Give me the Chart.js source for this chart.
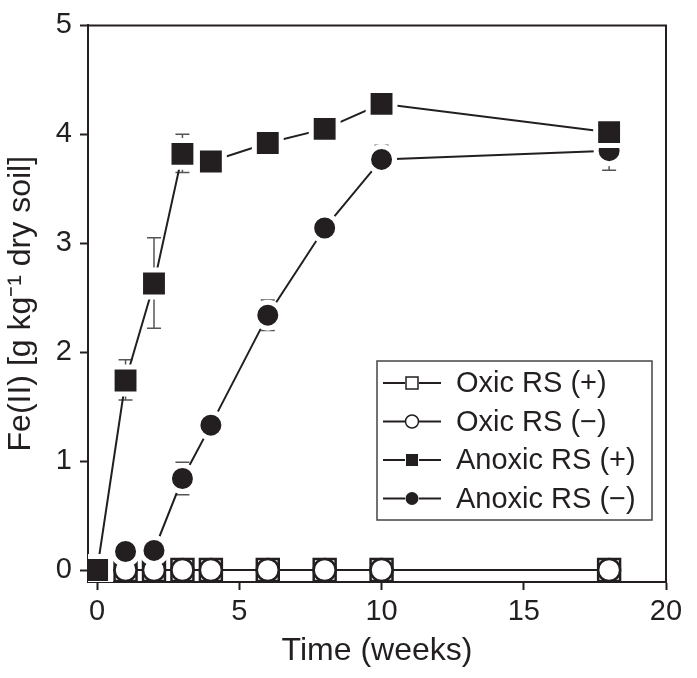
<!DOCTYPE html>
<html lang="en">
<head>
  <meta charset="UTF-8" />
  <title>Fe(II) over time</title>
  <script src="https://cdn.jsdelivr.net/npm/chart.js"></script>
  <style>
    html, body { margin: 0; padding: 0; background: #fff; }
    #wrap { width: 697px; height: 678px; }
  </style>
</head>
<body>
  <div id="wrap"><canvas id="feChart" width="697" height="678"></canvas></div>

  <script>
    // weeks
    const weeks = [0, 1, 2, 3, 4, 6, 8, 10, 18];

    const oxicPlus = [0, 0, 0, 0, 0, 0, 0, 0, 0];
    const oxicMinus = [0, 0, 0, 0, 0, 0, 0, 0, 0];
    const anoxicPlus = [0, 1.74, 2.63, 3.82, 3.75, 3.92, 4.05, 4.28, 4.02];
    const anoxicMinus = [0, 0.17, 0.18, 0.84, 1.33, 2.34, 3.14, 3.77, 3.85];

    // error bar ends (null = no bar)
    const anoxicPlusHi = [null, 1.93, 3.05, 4.0, null, 4.03, null, 4.40, null];
    const anoxicPlusLo = [null, 1.56, 2.22, 3.65, null, 3.80, null, 4.15, null];
    const anoxicMinusHi = [null, null, null, 0.99, null, 2.48, 3.23, 3.90, 3.85];
    const anoxicMinusLo = [null, null, null, 0.69, null, 2.20, 3.05, 3.66, 3.67];

    const xTicks = [0, 5, 10, 15, 20];
    const yTicks = [0, 1, 2, 3, 4, 5];

    const ink = "#231f20";
    const fontFam = "'Liberation Sans', Arial, sans-serif";

    function pts(ys) {
      return weeks.map((w, i) => ({ x: w, y: ys[i] }));
    }

    const errorBars = {
      id: "errorBars",
      beforeDatasetsDraw(chart) {
        const ctx = chart.ctx;
        const xs = chart.scales.x, ys = chart.scales.y;
        ctx.save();
        ctx.strokeStyle = "#555";
        ctx.lineWidth = 1.5;
        chart.data.datasets.forEach(ds => {
          if (!ds.errHi) return;
          weeks.forEach((w, i) => {
            if (ds.errHi[i] == null) return;
            const px = xs.getPixelForValue(w);
            const top = ys.getPixelForValue(ds.errHi[i]);
            const bot = ys.getPixelForValue(ds.errLo[i]);
            ctx.beginPath();
            ctx.moveTo(px, top); ctx.lineTo(px, bot);
            ctx.moveTo(px - 7, top); ctx.lineTo(px + 7, top);
            ctx.moveTo(px - 7, bot); ctx.lineTo(px + 7, bot);
            ctx.stroke();
          });
        });
        ctx.restore();
      }
    };

    const frameAndLegend = {
      id: "frameAndLegend",
      afterDraw(chart) {
        const ctx = chart.ctx;
        const a = chart.chartArea;
        ctx.save();
        // top and right frame lines
        ctx.strokeStyle = ink;
        ctx.lineWidth = 2;
        ctx.beginPath();
        ctx.moveTo(a.left, a.top);
        ctx.lineTo(a.right, a.top);
        ctx.lineTo(a.right, a.bottom);
        ctx.stroke();

        // legend box
        const bx = 377, by = 361, bw = 275, bh = 159;
        ctx.lineWidth = 1.5;
        ctx.strokeStyle = "#444";
        ctx.strokeRect(bx, by, bw, bh);

        const rows = [
          { label: "Oxic RS (+)", shape: "rect", fill: false },
          { label: "Oxic RS (\u2212)", shape: "circle", fill: false },
          { label: "Anoxic RS (+)", shape: "rect", fill: true },
          { label: "Anoxic RS (\u2212)", shape: "circle", fill: true }
        ];
        ctx.font = "29px " + fontFam;
        ctx.textBaseline = "middle";
        rows.forEach((r, i) => {
          const cy = by + 22 + i * 38.5;
          const mx = 412;
          ctx.strokeStyle = ink;
          ctx.lineWidth = 2;
          ctx.beginPath();
          ctx.moveTo(383, cy); ctx.lineTo(mx - 7, cy);
          ctx.moveTo(mx + 7, cy); ctx.lineTo(441, cy);
          ctx.stroke();
          ctx.beginPath();
          if (r.shape === "rect") ctx.rect(mx - 6, cy - 6, 12, 12);
          else ctx.arc(mx, cy, 6.5, 0, Math.PI * 2);
          if (r.fill) { ctx.fillStyle = ink; ctx.fill(); }
          else { ctx.fillStyle = "#fff"; ctx.fill(); ctx.lineWidth = 1.5; ctx.stroke(); }
          ctx.fillStyle = ink;
          ctx.fillText(r.label, 456, cy + 1);
        });
        ctx.restore();
      }
    };

    new Chart(document.getElementById("feChart"), {
      type: "line",
      data: {
        datasets: [
          {
            label: "Anoxic RS (+)",
            data: pts(anoxicPlus),
            errHi: anoxicPlusHi, errLo: anoxicPlusLo,
            borderColor: ink, borderWidth: 2,
            pointStyle: "rect", pointRadius: 19,
            pointBackgroundColor: ink, pointBorderColor: "#fff", pointBorderWidth: 5,
            order: 0
          },
          {
            label: "Anoxic RS (\u2212)",
            data: pts(anoxicMinus),
            errHi: anoxicMinusHi, errLo: anoxicMinusLo,
            borderColor: ink, borderWidth: 2,
            pointStyle: "circle", pointRadius: 13,
            pointBackgroundColor: ink, pointBorderColor: "#fff", pointBorderWidth: 5,
            order: 1
          },
          {
            label: "Oxic RS (\u2212)",
            data: pts(oxicMinus),
            borderColor: ink, borderWidth: 2,
            pointStyle: "circle", pointRadius: 11,
            pointBackgroundColor: "#fff", pointBorderColor: ink, pointBorderWidth: 2.5,
            order: 2
          },
          {
            label: "Oxic RS (+)",
            data: pts(oxicPlus),
            borderColor: ink, borderWidth: 2,
            pointStyle: "rect", pointRadius: 15.5,
            pointBackgroundColor: "#fff", pointBorderColor: ink, pointBorderWidth: 2.5,
            order: 3
          }
        ]
      },
      options: {
        responsive: false,
        animation: false,
        layout: { padding: { top: 25, right: 31, left: 0, bottom: 0 } },
        plugins: {
          legend: { display: false },
          tooltip: { enabled: false }
        },
        elements: { line: { tension: 0 } },
        scales: {
          x: {
            type: "linear",
            min: -0.32, max: 20,
            afterBuildTicks: s => { s.ticks = xTicks.map(v => ({ value: v })); },
            afterFit: s => { s.height = 96; },
            border: { display: true, color: ink, width: 2 },
            grid: { display: true, drawOnChartArea: false, drawTicks: true, tickLength: 8, tickWidth: 2, tickColor: ink },
            ticks: { color: ink, padding: 5, font: { family: fontFam, size: 29 } },
            title: { display: true, text: "Time (weeks)", color: ink, padding: { bottom: 8 }, font: { family: fontFam, size: 32 } }
          },
          y: {
            type: "linear",
            min: -0.11, max: 5,
            afterBuildTicks: s => { s.ticks = yTicks.map(v => ({ value: v })); },
            afterFit: s => { s.width = 88; },
            border: { display: true, color: ink, width: 2 },
            grid: { display: true, drawOnChartArea: false, drawTicks: true, tickLength: 8, tickWidth: 2, tickColor: ink },
            ticks: { color: ink, padding: 8, font: { family: fontFam, size: 29 } },
            title: { display: true, text: "Fe(II) [g kg\u207B\u00B9 dry soil]", color: ink, padding: { top: 2 }, font: { family: fontFam, size: 32 } }
          }
        }
      },
      plugins: [errorBars, frameAndLegend]
    });
  </script>
</body>
</html>
